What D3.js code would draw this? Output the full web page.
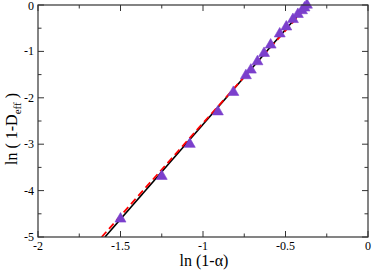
<!DOCTYPE html>
<html><head><meta charset="utf-8">
<script src="https://cdn.jsdelivr.net/npm/d3@7"></script>
<style>body{margin:0;background:#fff}svg{display:block}</style>
</head><body>
<script>
const xData = [-1.50,-1.25,-1.08,-0.91,-0.816,-0.74,-0.71,-0.67,-0.63,-0.59,-0.535,-0.495,-0.455,-0.425,-0.40,-0.385,-0.37];
const yData = [-4.61,-3.69,-3.00,-2.30,-1.88,-1.52,-1.40,-1.22,-1.04,-0.86,-0.62,-0.47,-0.31,-0.20,-0.12,-0.06,0.0];
const fitBlackX = [-1.594,-0.37];
const fitBlackY = [-5,0];
const fitRedX = [-1.614,-0.40];
const fitRedY = [-5,-0.15];
const xTicks = [-2,-1.5,-1,-0.5,0];
const xTickLabels = ["-2","-1.5","-1","-0.5","0"];
const yTicks = [0,-1,-2,-3,-4,-5];
const yTickLabels = ["0","-1","-2","-3","-4","-5"];

const W=373,H=270;
const L=38,R=368,T=5,B=237;
const svg=d3.select("body").append("svg").attr("width",W).attr("height",H);
const x=d3.scaleLinear().domain([-2,0]).range([L,R]);
const y=d3.scaleLinear().domain([-5,0]).range([B,T]);
const font="'Liberation Serif','Times New Roman',serif";
const axisColor="#333";

svg.append("defs").append("clipPath").attr("id","clip").append("rect")
  .attr("x",L).attr("y",T).attr("width",R-L).attr("height",B-T);
const plot=svg.append("g").attr("clip-path","url(#clip)");

const line=d3.line().x(d=>x(d[0])).y(d=>y(d[1]));
plot.append("path").datum(fitBlackX.map((v,i)=>[v,fitBlackY[i]]))
  .attr("d",line).attr("stroke","#000").attr("stroke-width",1.6).attr("fill","none");
plot.append("path").datum(fitRedX.map((v,i)=>[v,fitRedY[i]]))
  .attr("d",line).attr("stroke","#ff0000").attr("stroke-width",1.8).attr("fill","none")
  .attr("stroke-dasharray","7,4");

const tri=d3.symbol().type(d3.symbolTriangle).size(52);
svg.append("g").selectAll(".pt").data(xData.map((v,i)=>[v,yData[i]])).join("path")
  .attr("d",tri).attr("transform",d=>`translate(${x(d[0])},${y(d[1])})`)
  .attr("fill","#7b3fcc").attr("stroke","#7b3fcc").attr("stroke-width",0.6);

// frame
svg.append("rect").attr("x",L).attr("y",T).attr("width",R-L).attr("height",B-T)
  .attr("fill","none").attr("stroke",axisColor).attr("stroke-width",1.2);

// axes with inward ticks
const xMinor=d3.range(-2,0.001,0.25);
const yMinor=d3.range(-5,0.001,0.5);
const tg=svg.append("g").attr("stroke",axisColor).attr("stroke-width",1);
xMinor.forEach(v=>{
  const major=Math.abs(v*2-Math.round(v*2))<1e-6;
  const len=major?6:3.5;
  tg.append("line").attr("x1",x(v)).attr("x2",x(v)).attr("y1",B).attr("y2",B-len);
  tg.append("line").attr("x1",x(v)).attr("x2",x(v)).attr("y1",T).attr("y2",T+len);
});
yMinor.forEach(v=>{
  const major=Math.abs(v-Math.round(v))<1e-6;
  const len=major?6:3.5;
  tg.append("line").attr("y1",y(v)).attr("y2",y(v)).attr("x1",L).attr("x2",L+len);
  tg.append("line").attr("y1",y(v)).attr("y2",y(v)).attr("x1",R).attr("x2",R-len);
});

svg.append("g").selectAll("text").data(xTicks).join("text")
  .attr("x",d=>x(d)).attr("y",B+13).attr("text-anchor","middle")
  .attr("font-family",font).attr("font-size",12).attr("fill","#000")
  .text((d,i)=>xTickLabels[i]);
svg.append("g").selectAll("text").data(yTicks).join("text")
  .attr("x",L-4).attr("y",d=>Math.max(y(d)+4,T+5)).attr("text-anchor","end")
  .attr("font-family",font).attr("font-size",12).attr("fill","#000")
  .text((d,i)=>yTickLabels[i]);

svg.append("text").attr("x",204).attr("y",266).attr("text-anchor","middle")
  .attr("font-family",font).attr("font-size",16).attr("fill","#000")
  .text("ln (1-α)");

const yl=svg.append("text").attr("transform","translate(17,129) rotate(-90)")
  .attr("text-anchor","middle").attr("font-family",font).attr("font-size",16).attr("fill","#000");
yl.append("tspan").text("ln ( 1-D");
yl.append("tspan").attr("font-size",11).attr("dy",4).text("eff");
yl.append("tspan").attr("dy",-4).text(" )");
</script>
</body></html>
